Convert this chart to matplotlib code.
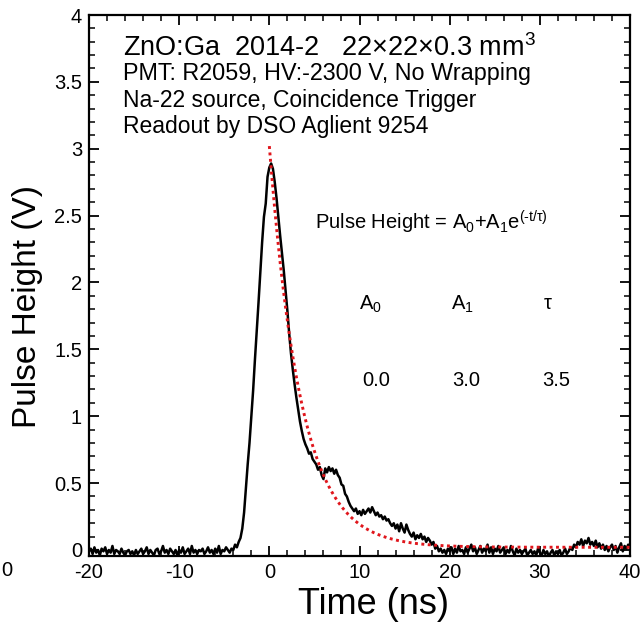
import numpy as np
import matplotlib
matplotlib.use("Agg")
import matplotlib.pyplot as plt
from matplotlib.ticker import MultipleLocator

plt.rcParams['font.family'] = ['Liberation Sans', 'DejaVu Sans']
plt.rcParams['mathtext.fontset'] = 'custom'
plt.rcParams['mathtext.rm'] = 'Liberation Sans'
plt.rcParams['mathtext.it'] = 'Liberation Sans'

# ---- measured pulse (time step 0.2 ns, from -20 to 40 ns) ----
t_start, t_step = -20.0, 0.2
pulse_v = [
    -0.01, 0.01, -0.03, 0.02, -0.02, 0.00, -0.04, 0.01, -0.01, 0.02,
    -0.03, 0.00, -0.02, 0.03, -0.03, 0.00, -0.01, -0.03, 0.01, -0.02,
    -0.04, -0.01, 0.00, -0.03, -0.01, -0.04, 0.00, -0.03, -0.01, 0.01,
    -0.03, -0.01, 0.02, -0.03, 0.00, -0.02, -0.04, 0.00, 0.01, -0.03,
    -0.01, 0.03, -0.02, 0.00, -0.03, 0.01, -0.01, -0.03, 0.00, -0.04,
    0.00, -0.02, 0.02, -0.03, -0.01, 0.01, -0.03, 0.03, -0.02, 0.00,
    -0.03, 0.00, -0.01, 0.01, -0.03, -0.01, 0.02, -0.02, 0.00, -0.03,
    0.01, -0.02, 0.03, -0.03, 0.00, -0.01, 0.02, 0.00, -0.02, 0.01,
    0.00, 0.04, 0.02, 0.06, 0.09, 0.16, 0.28, 0.46, 0.64, 0.80,
    1.00, 1.19, 1.42, 1.63, 1.85, 2.07, 2.30, 2.49, 2.59, 2.79,
    2.86, 2.89, 2.85, 2.75, 2.63, 2.49, 2.35, 2.22, 2.09, 1.94,
    1.79, 1.62, 1.47, 1.35, 1.24, 1.14, 1.05, 0.96, 0.89, 0.83,
    0.79, 0.76, 0.72, 0.73, 0.68, 0.66, 0.64, 0.60, 0.62, 0.56,
    0.53, 0.61, 0.58, 0.62, 0.59, 0.61, 0.57, 0.60, 0.56, 0.54,
    0.49, 0.48, 0.42, 0.40, 0.36, 0.33, 0.31, 0.29, 0.31, 0.27,
    0.29, 0.26, 0.30, 0.27, 0.29, 0.31, 0.28, 0.32, 0.29, 0.26,
    0.28, 0.25, 0.26, 0.23, 0.25, 0.22, 0.23, 0.20, 0.18, 0.20,
    0.16, 0.19, 0.14, 0.20, 0.16, 0.13, 0.19, 0.15, 0.12, 0.10,
    0.13, 0.08, 0.11, 0.09, 0.12, 0.08, 0.10, 0.06, 0.09, 0.07,
    0.04, 0.06, 0.01, 0.03, -0.01, 0.01, -0.02, 0.00, -0.03, 0.01,
    -0.01, 0.02, -0.03, 0.01, -0.02, 0.03, -0.01, 0.00, -0.03, 0.02,
    -0.02, 0.01, 0.04, -0.01, 0.02, -0.03, 0.00, 0.03, -0.02, 0.01,
    -0.01, 0.04, -0.02, 0.02, -0.03, 0.01, -0.01, 0.03, -0.02, 0.00,
    0.02, -0.03, 0.00, -0.02, 0.03, -0.01, -0.04, 0.01, -0.02, 0.00,
    -0.03, -0.01, 0.01, -0.04, -0.02, 0.00, -0.03, -0.01, -0.04, 0.01,
    -0.02, -0.04, 0.00, -0.03, -0.01, -0.05, -0.02, 0.00, -0.04, -0.01,
    -0.03, 0.00, -0.04, -0.02, 0.01, -0.03, -0.01, 0.02, 0.00, 0.04,
    0.02, 0.06, 0.04, 0.08, 0.03, 0.07, 0.05, 0.09, 0.04, 0.06,
    0.03, 0.07, 0.02, 0.05, 0.01, 0.04, 0.00, 0.03, -0.01, 0.02,
    0.04, 0.00, 0.03, -0.02, 0.02, 0.05, -0.01, 0.03, 0.01, 0.04,
    0.02,
]
pulse_t = t_start + t_step * np.arange(len(pulse_v))

# ---- exponential fit ----
fit_A0, fit_A1, fit_tau = 0.02, 3.0, 3.5
fit_t = np.linspace(0.0, 40.0, 400)
fit_v = fit_A0 + fit_A1 * np.exp(-fit_t / fit_tau)

param_names = [r'A$_0$', r'A$_1$', r'$\tau$']
param_values = ['0.0', '3.0', '3.5']
param_x = [11.2, 21.4, 30.9]
value_x = [11.8, 21.8, 31.8]

info_lines = [
    r'ZnO:Ga  2014-2   22$\times$22$\times$0.3 mm$^3$',
    'PMT: R2059, HV:-2300 V, No Wrapping',
    'Na-22 source, Coincidence Trigger',
    'Readout by DSO Aglient 9254',
]

fig = plt.figure(figsize=(6.44, 6.24), dpi=100)
ax = fig.add_axes([89/644, 1-556/624, (630-89)/644, (556-15)/624])

ax.plot(pulse_t, pulse_v, color='black', lw=1.8, zorder=2)
ax.plot(fit_t, fit_v, color='#e0161c', lw=2.1, ls=(0, (1.0, 1.2)), zorder=3)

ax.set_xlim(-20, 40)
ax.set_ylim(-0.045, 4.0)
ax.xaxis.set_minor_locator(MultipleLocator(2))
ax.yaxis.set_minor_locator(MultipleLocator(0.1))
ax.set_yticks([0, 0.5, 1, 1.5, 2, 2.5, 3, 3.5, 4])
ax.set_yticklabels(['0', '0.5', '1', '1.5', '2', '2.5', '3', '3.5', '4'])
ax.set_xticks([-20, -10, 0, 10, 20, 30, 40])
ax.set_xticklabels(['-20', '-10', '0', '10', '20', '30', '40'])
ax.tick_params(which='both', direction='in', top=True, right=True, labelsize=14.5)
ax.tick_params(which='major', length=7, width=1.3, pad=5)
ax.tick_params(which='minor', length=4, width=1.1)
for s in ax.spines.values():
    s.set_linewidth(1.6)

ax.set_xlabel('Time (ns)', fontsize=26)
ax.xaxis.set_label_coords((374 - 89) / 541, -(604 - 556) / 541)
ax.xaxis.label.set_va('center')
ax.set_ylabel('Pulse Height (V)', fontsize=24)
ax.yaxis.set_label_coords(-(89 - 28) / 541, (556 - 307) / 541)
ax.yaxis.label.set_va('center')

ys = [3.75, 3.56, 3.36, 3.17]
sizes = [19.5, 16.8, 16.5, 16.5]
for txt, yy, fs in zip(info_lines, ys, sizes):
    ax.text(-16.2, yy, txt, fontsize=fs, va='center', ha='left')

ax.text(5.1, 2.45, r'Pulse Height = A$_0$+A$_1$e$^{(\mathrm{‐}t/\tau)}$', fontsize=14.5,
        va='center', ha='left')
for name, xx in zip(param_names, param_x):
    ax.text(xx, 1.84, name, fontsize=14.5, va='center', ha='center')
for val, xx in zip(param_values, value_x):
    ax.text(xx, 1.27, val, fontsize=14.5, va='center', ha='center')

fig.text(7/644, 1-570/624, '0', fontsize=14.5, ha='center', va='center')

fig.savefig('out.png', dpi=100)
